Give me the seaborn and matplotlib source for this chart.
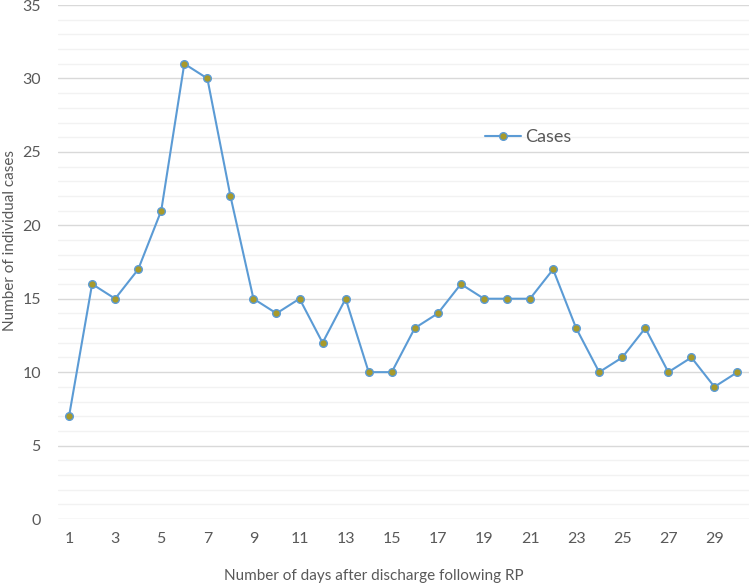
import pandas as pd
import matplotlib.pyplot as plt
import seaborn as sns
from matplotlib.ticker import MultipleLocator

days = list(range(1, 31))
cases = [7, 16, 15, 17, 21, 31, 30, 22, 15, 14, 15, 12, 15, 10, 10,
         13, 14, 16, 15, 15, 15, 17, 13, 10, 11, 13, 10, 11, 9, 10]
xtick_days = list(range(1, 30, 2))

df = pd.DataFrame({'day': days, 'Cases': cases})

sns.set_style('white')
plt.rcParams['font.family'] = ['Lato', 'DejaVu Sans']

fig = plt.figure(figsize=(7.49, 5.84), dpi=100)
ax = fig.add_axes([0.0768, 0.1113, 0.9232, 0.8801])

sns.lineplot(data=df, x='day', y='Cases', ax=ax, color='#5B9BD5', lw=1.5,
             marker='o', markersize=5.5, markerfacecolor='#A89A2A',
             markeredgecolor='#5B9BD5', markeredgewidth=1, label='Cases')

ax.set_xlim(0.5, 30.5)
ax.set_ylim(0, 35)
ax.set_xticks(xtick_days)
ax.yaxis.set_major_locator(MultipleLocator(5))
ax.yaxis.set_minor_locator(MultipleLocator(1))
ax.grid(which='major', axis='y', color='#D9D9D9', lw=1)
ax.grid(which='minor', axis='y', color='#F2F2F2', lw=1)
ax.set_axisbelow(True)
for s in ax.spines.values():
    s.set_visible(False)
ax.tick_params(axis='both', which='both', length=0, labelsize=11.5, colors='#595959')
ax.tick_params(axis='x', pad=9)
ax.tick_params(axis='y', pad=12)

ax.set_xlabel('Number of days after discharge following RP', fontsize=11,
              color='#595959', va='center')
ax.set_ylabel('Number of individual cases', fontsize=11, color='#595959', va='center')
ax.xaxis.set_label_coords(0.458, -0.111)
ax.yaxis.set_label_coords(-0.0685, 0.541)

leg = ax.legend(loc='center left', bbox_to_anchor=(0.595, 0.743), frameon=False,
                fontsize=13, handlelength=2, handletextpad=0.2)
for t in leg.get_texts():
    t.set_color('#595959')

fig.savefig('out.png', dpi=100)
